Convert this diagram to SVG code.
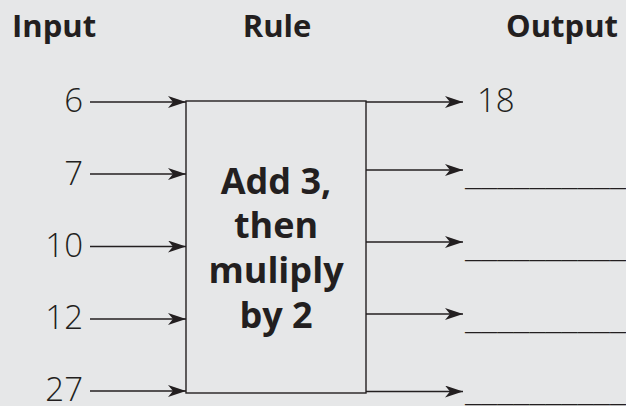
<svg xmlns="http://www.w3.org/2000/svg" width="626" height="406" viewBox="0 0 626 406">
<defs>
<marker id="ah" markerUnits="userSpaceOnUse" markerWidth="20" markerHeight="12" refX="18" refY="6" orient="auto">
<path d="M0,0 L18,6 L0,12 L5,6 Z" fill="#231f20"/>
</marker>
<style>
.hd{font-family:"Open Sans","Liberation Sans",sans-serif;font-weight:700;font-size:31px;fill:#231f20}
.num{font-family:"Open Sans","Liberation Sans",sans-serif;font-weight:300;font-size:33px;fill:#231f20}
.rule{font-family:"Open Sans","Liberation Sans",sans-serif;font-weight:700;font-size:36px;fill:#231f20;text-anchor:middle}
.ln{stroke:#231f20;stroke-width:1.4;fill:none}
.ar{stroke:#231f20;stroke-width:1.4;fill:none;marker-end:url(#ah)}
</style>
</defs>
<rect width="626" height="406" fill="#e6e7e8"/>
<g id="headers">
<text class="hd" x="12" y="37">Input</text>
<text class="hd" x="277" y="37" text-anchor="middle">Rule</text>
<text class="hd" x="618" y="37" text-anchor="end">Output</text>
</g>
<g id="rule">
<rect class="ln" x="186" y="101" width="180" height="292"/>
<text class="rule" x="276" y="194">Add 3,</text>
<text class="rule" x="276" y="238">then</text>
<text class="rule" x="276" y="283">muliply</text>
<text class="rule" x="276" y="328">by 2</text>
</g>
<g id="inputs">
<text class="num" x="83" y="112" text-anchor="end">6</text>
<text class="num" x="83" y="185" text-anchor="end">7</text>
<text class="num" x="83" y="257" text-anchor="end">10</text>
<text class="num" x="83" y="329" text-anchor="end">12</text>
<text class="num" x="83" y="401" text-anchor="end">27</text>
</g>
<g id="outputs">
<text class="num" x="477" y="112">18</text>
<text class="num" x="465" y="184.5" textLength="161" lengthAdjust="spacingAndGlyphs">__________</text>
<text class="num" x="465" y="256.5" textLength="161" lengthAdjust="spacingAndGlyphs">__________</text>
<text class="num" x="465" y="328.5" textLength="161" lengthAdjust="spacingAndGlyphs">__________</text>
<text class="num" x="465" y="401" textLength="161" lengthAdjust="spacingAndGlyphs">__________</text>
</g>
<g id="connectors">
<line class="ar" x1="90" y1="102" x2="186" y2="102"/>
<line class="ar" x1="90" y1="174" x2="186" y2="174"/>
<line class="ar" x1="90" y1="246.5" x2="186" y2="246.5"/>
<line class="ar" x1="90" y1="319" x2="186" y2="319"/>
<line class="ar" x1="90" y1="391" x2="186" y2="391"/>
<line class="ar" x1="366" y1="102" x2="463" y2="102"/>
<line class="ar" x1="366" y1="170" x2="463" y2="170"/>
<line class="ar" x1="366" y1="242" x2="463" y2="242"/>
<line class="ar" x1="366" y1="314" x2="463" y2="314"/>
<line class="ar" x1="366" y1="391.5" x2="463" y2="391.5"/>
</g>
</svg>
